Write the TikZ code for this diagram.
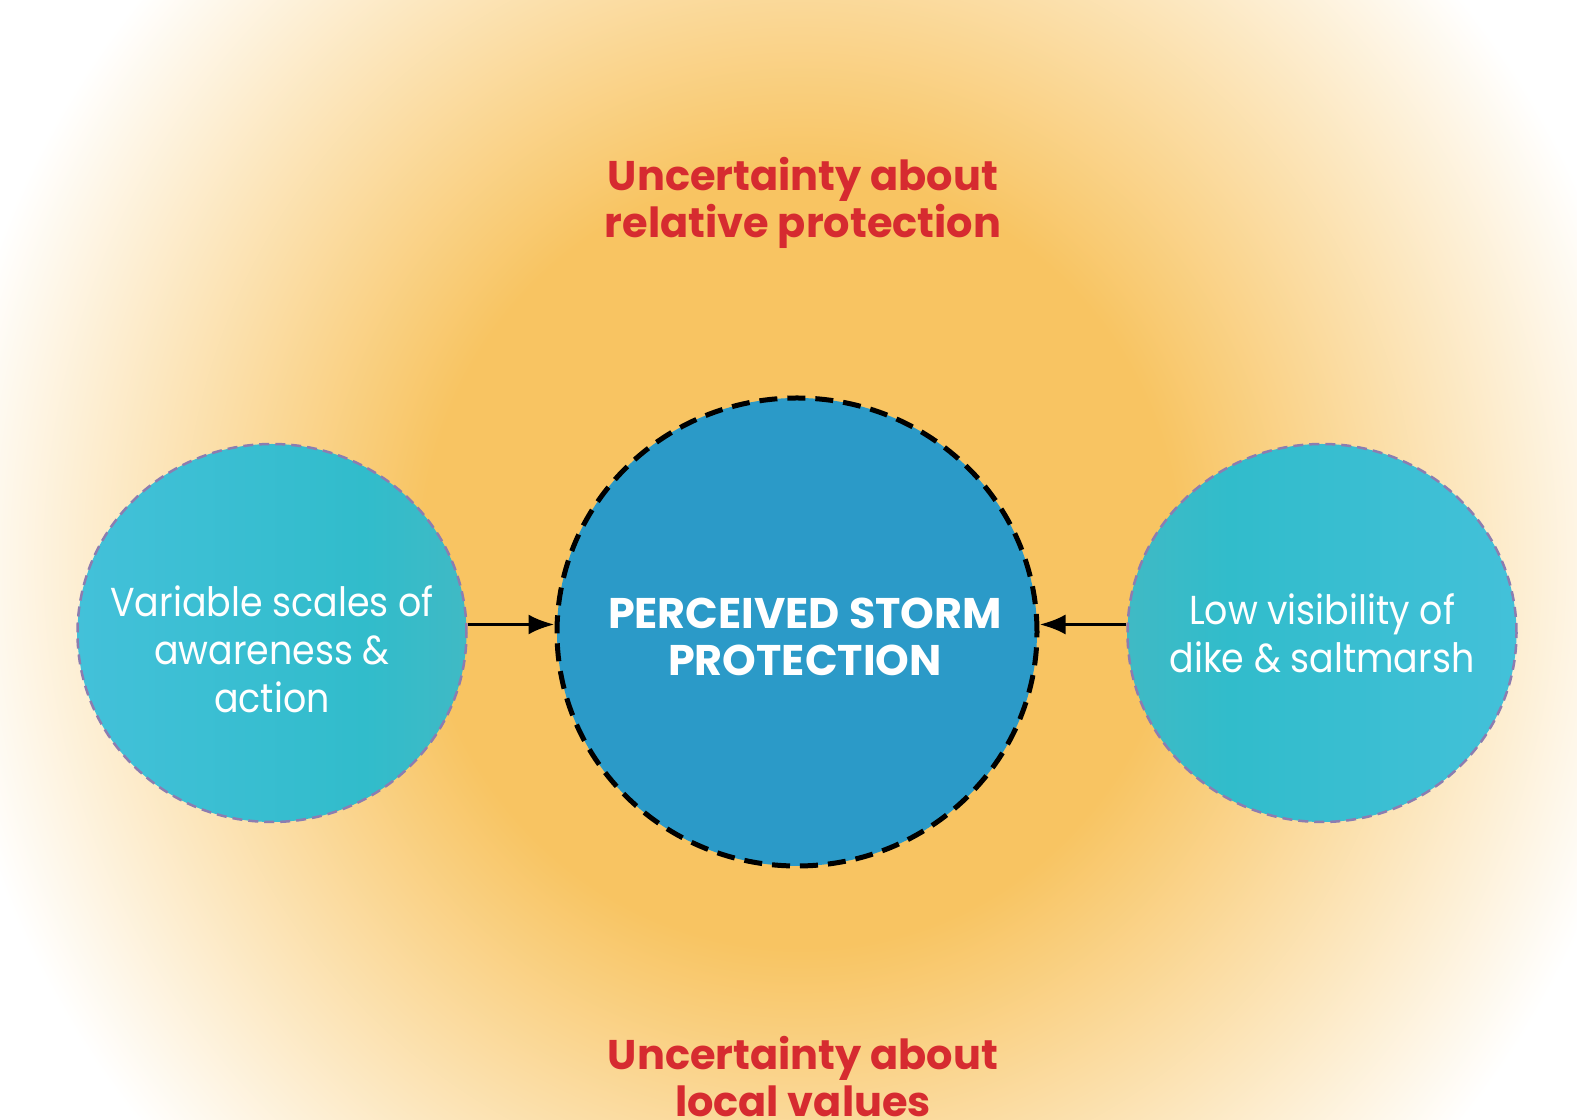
\documentclass[tikz,border=0pt]{standalone}
\usepackage{fontspec}
\usepackage{xcolor}
\setmainfont{Poppins}
\newfontfamily\bookfont[FakeStretch=0.9]{Poppins}
\usetikzlibrary{arrows.meta,shapes.geometric}

\definecolor{bgorange}{HTML}{F8C462}
\definecolor{redtxt}{HTML}{D62B30}
\definecolor{coreblue}{HTML}{2B9AC8}
\definecolor{skyblue}{HTML}{4FC4E3}
\definecolor{tealmid}{HTML}{31BCCB}
\definecolor{greyteal}{HTML}{5CB5B8}
\definecolor{rimpurple}{HTML}{8C7DB0}

\pgfdeclareradialshading{glow}{\pgfpoint{0bp}{0bp}}{color(0bp)=(bgorange); color(11bp)=(bgorange); color(25bp)=(white); color(50bp)=(white)}
\pgfdeclarehorizontalshading{sideleft}{100bp}{color(0bp)=(skyblue); color(62bp)=(tealmid); color(100bp)=(greyteal)}
\pgfdeclarehorizontalshading{sideright}{100bp}{color(0bp)=(greyteal); color(38bp)=(tealmid); color(100bp)=(skyblue)}

\tikzset{
	factor/.style={ellipse, inner sep=0pt, minimum width=38.9mm, minimum height=37.8mm, shade, draw=rimpurple, line width=0.25mm, dash pattern=on 1mm off 0.6mm},
	core/.style={ellipse, inner sep=0pt, minimum width=48mm, minimum height=46.8mm, fill=coreblue, draw=black, line width=0.5mm, dash pattern=on 1.8mm off 1mm},
	factortxt/.style={text=white, align=center, font=\fontsize{11.5}{13.7}\bookfont},
	coretxt/.style={text=white, align=center, font=\fontsize{12.2}{13.4}\selectfont\bfseries},
	doubt/.style={text=redtxt, align=center, font=\fontsize{11.8}{13.4}\selectfont\bfseries},
	feed/.style={-{Latex[length=2.6mm,width=2mm]}, line width=0.35mm}
}

\begin{document}
\begin{tikzpicture}[x=0.1mm,y=-0.1mm]
	\useasboundingbox (0,0) rectangle (1577,1120);
	\clip (0,0) rectangle (1577,1120);
	\fill[white] (0,0) rectangle (1577,1120);
	\shade[shading=glow] (800,560) ellipse [x radius=860, y radius=880];
	
	\node[core, label={[coretxt, xshift=0.8mm, yshift=-0.5mm]center:PERCEIVED STORM\\PROTECTION}] (storm) at (797,632) {};
	\node[factor, shading=sideleft, label={[factortxt, yshift=-1.6mm]center:Variable scales of\\awareness \&\\action}] (scales) at (272,633) {};
	\node[factor, shading=sideright, label={[factortxt]center:Low visibility of\\dike \& saltmarsh}] (dike) at (1322,633) {};
	
	\node[doubt] (relprot) at (803,203) {Uncertainty about\\relative protection};
	\node[doubt] (locval) at (803,1077) {Uncertainty about\\local values};
	
	\draw[feed] ([yshift=0.85mm]scales.east) -- ([yshift=0.85mm]scales.east -| storm.west);
	\draw[feed] ([yshift=0.85mm]dike.west) -- ([yshift=0.85mm]dike.west -| storm.east);
\end{tikzpicture}
\end{document}
